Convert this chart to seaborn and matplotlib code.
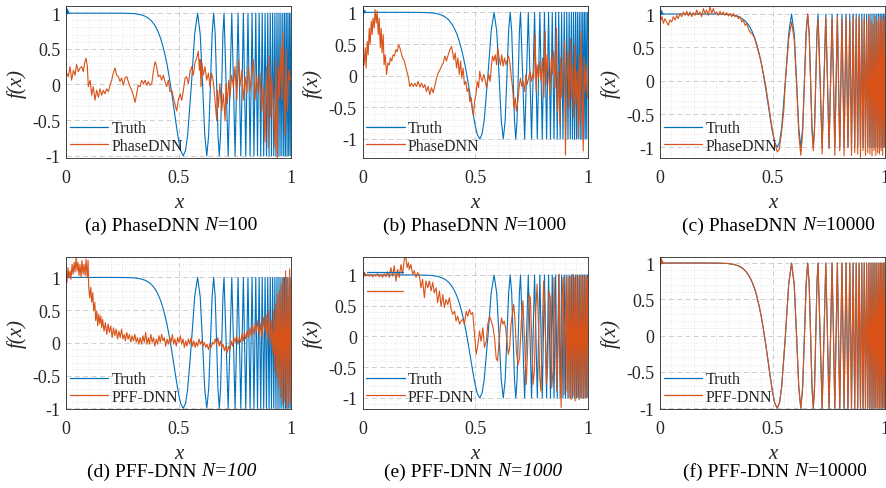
import matplotlib
matplotlib.use("Agg")
import matplotlib.pyplot as plt
import seaborn as sns
from matplotlib.ticker import MultipleLocator, FixedLocator
from matplotlib.lines import Line2D

# ---------------- data ----------------
truth_x = [0.000, 0.002, 0.004, 0.007, 0.010, 0.014, 0.020,
           0.100, 0.200, 0.250, 0.300, 0.330, 0.350, 0.360, 0.370, 0.380, 0.390,
           0.400, 0.410, 0.420, 0.430, 0.440, 0.450, 0.460, 0.470, 0.480, 0.490,
           0.500, 0.510, 0.521, 0.5313, 0.5407,
           0.5574, 0.5719, 0.5848, 0.5964, 0.6070, 0.6167, 0.6257, 0.6341, 0.6420, 0.6494,
           0.6564, 0.6631, 0.6694, 0.6755, 0.6813, 0.6869, 0.6922, 0.6974,
           0.7023, 0.7118, 0.7206, 0.7289, 0.7368, 0.7443, 0.7514, 0.7582, 0.7647, 0.7710,
           0.7769,
           0.7883, 0.7989, 0.8088, 0.8182, 0.8270, 0.8354, 0.8434, 0.8511, 0.8584, 0.8654,
           0.8721, 0.8786, 0.8849, 0.8909, 0.8967, 0.9024, 0.9079, 0.9132, 0.9184, 0.9234,
           0.9283, 0.9331, 0.9377, 0.9423, 0.9467, 0.9511, 0.9553, 0.9594, 0.9635, 0.9675,
           0.9714, 0.9752, 0.9789, 0.9826, 0.9862, 0.9897, 0.9932, 0.9966, 1.000]
truth_y = [1.09, 0.98, 1.06, 0.99, 1.03, 0.995, 1.0,
           1.0, 1.0, 0.999, 0.994, 0.980, 0.959, 0.942, 0.920, 0.890, 0.851,
           0.800, 0.734, 0.651, 0.546, 0.417, 0.264, 0.083, -0.122, -0.343, -0.567,
           -0.773, -0.929, -1.0, -0.924, -0.707,
           0.0, 0.707, 1.0, 0.707, 0.0, -0.707, -1.0, -0.707, 0.0, 0.707,
           1.0, 0.707, 0.0, -0.707, -1.0, -0.707, 0.0, 0.707,
           1.0, 0.0, -1.0, 0.0, 1.0, 0.0, -1.0, 0.0, 1.0, 0.0,
           -1.0,
           1, -1, 1, -1, 1, -1, 1, -1, 1, -1,
           1, -1, 1, -1, 1, -1, 1, -1, 1, -1,
           1, -1, 1, -1, 1, -1, 1, -1, 1, -1,
           1, -1, 1, -1, 1, -1, 1, -1, 1]

# (a) PhaseDNN N=100
a_x = [0.000, 0.010, 0.018, 0.025, 0.033, 0.040, 0.047, 0.055, 0.062, 0.070,
       0.077, 0.084, 0.089, 0.095, 0.099, 0.107, 0.114, 0.121, 0.129, 0.136,
       0.144, 0.151, 0.159, 0.166, 0.173, 0.181, 0.188, 0.196, 0.203, 0.210,
       0.218, 0.225, 0.233, 0.240, 0.247, 0.255, 0.262, 0.270, 0.277, 0.284,
       0.292, 0.299, 0.307, 0.314, 0.321, 0.329, 0.336, 0.344, 0.351, 0.359,
       0.366, 0.373, 0.381, 0.388, 0.396, 0.403, 0.410, 0.418, 0.425, 0.433,
       0.440, 0.447, 0.455, 0.462, 0.470, 0.477, 0.484, 0.492, 0.499, 0.507,
       0.514, 0.521, 0.529, 0.536, 0.544, 0.551, 0.559, 0.566, 0.573, 0.581,
       0.588, 0.593, 0.596, 0.600, 0.604, 0.610, 0.618, 0.625, 0.633, 0.640,
       0.647, 0.655, 0.662, 0.670, 0.673, 0.677, 0.684, 0.692, 0.699, 0.707,
       0.711, 0.717, 0.723, 0.729, 0.736, 0.744, 0.751, 0.759, 0.766, 0.773,
       0.781, 0.788, 0.796, 0.803, 0.810, 0.818, 0.825, 0.833, 0.840, 0.847,
       0.855, 0.862, 0.870, 0.877, 0.884, 0.892, 0.899, 0.904, 0.910, 0.914,
       0.921, 0.929, 0.933, 0.939, 0.944, 0.948, 0.954, 0.959, 0.963, 0.969,
       0.973, 0.978, 0.984, 0.990, 0.996, 1.000]
a_y = [0.18, 0.11, 0.25, 0.06, 0.2, 0.13, 0.28, 0.18, 0.23, 0.25,
       0.18, 0.32, 0.37, 0.25, -0.03, 0.06, -0.15, -0.03, -0.22, -0.08,
       -0.18, -0.06, -0.15, -0.08, -0.13, -0.06, -0.1, -0.01, 0.06, 0.16,
       0.23, 0.13, 0.11, 0.04, 0.09, -0.01, 0.09, 0.11, 0.04, -0.03,
       -0.08, -0.15, -0.25, -0.13, -0.01, -0.03, 0.06, 0.01, 0.06, -0.01,
       0.04, -0.01, 0.01, 0.18, 0.32, 0.25, 0.11, 0.13, 0.06, 0.13,
       0.04, -0.03, 0.06, -0.1, -0.08, -0.18, -0.27, -0.37, -0.22, -0.13,
       -0.22, -0.1, 0.09, 0.11, 0.01, 0.18, 0.25, 0.13, 0.30, 0.37,
       0.47, 0.2, 0.35, -0.03, 0.3, 0.13, 0.25, 0.06, 0.16, -0.03,
       0.16, 0.04, -0.22, -0.51, -0.08, -0.32, 0.01, -0.37, -0.13, -0.51,
       0.01, -0.27, 0.06, -0.18, 0.13, -0.03, 0.25, -0.22, 0.35, -0.03,
       0.2, -0.22, 0.11, -0.13, 0.25, -0.08, 0.11, 0.35, -0.22, 0.11,
       -0.13, 0.16, -0.37, -0.03, -0.8, 0.25, -0.89, 0.4, -0.46, 0.11,
       -0.22, -0.89, 0.35, -1.08, 0.25, -0.18, 0.54, -0.22, 0.73, -0.08,
       -0.7, 0.49, -0.37, 0.2, 0.06, 0.09]

# (b) PhaseDNN N=1000
b_x = [0.000, 0.003, 0.007, 0.012, 0.016, 0.021, 0.025, 0.030, 0.034, 0.039,
       0.043, 0.047, 0.052, 0.056, 0.061, 0.065, 0.070, 0.074, 0.079, 0.083,
       0.087, 0.092, 0.096, 0.101, 0.107, 0.113, 0.119, 0.124, 0.130, 0.136,
       0.142, 0.148, 0.154, 0.160, 0.166, 0.172, 0.178, 0.184, 0.190, 0.196,
       0.203, 0.210, 0.218, 0.225, 0.233, 0.240, 0.247, 0.255, 0.262, 0.270,
       0.277, 0.284, 0.292, 0.299, 0.307, 0.314, 0.321, 0.329, 0.336, 0.344,
       0.351, 0.359, 0.366, 0.373, 0.381, 0.388, 0.396, 0.400, 0.406, 0.412,
       0.418, 0.424, 0.430, 0.436, 0.441, 0.447, 0.453, 0.459, 0.465, 0.471,
       0.477, 0.483, 0.489, 0.493, 0.498, 0.504, 0.510, 0.516, 0.521, 0.527,
       0.533, 0.539, 0.545, 0.551, 0.556, 0.561, 0.567, 0.573, 0.578, 0.584,
       0.590, 0.596, 0.601, 0.607, 0.613, 0.619, 0.625, 0.631, 0.637, 0.643,
       0.649, 0.655, 0.661, 0.667, 0.673, 0.679, 0.684, 0.690, 0.696, 0.702,
       0.708, 0.714, 0.720, 0.726, 0.732, 0.738, 0.744, 0.750, 0.756, 0.761,
       0.767, 0.772, 0.776, 0.782, 0.788, 0.794, 0.800, 0.806, 0.812, 0.816,
       0.821, 0.827, 0.833, 0.839, 0.844, 0.850, 0.856, 0.862, 0.867, 0.871,
       0.877, 0.881, 0.886, 0.892, 0.898, 0.902, 0.907, 0.913, 0.919, 0.924,
       0.929, 0.933, 0.939, 0.944, 0.948, 0.954, 0.959, 0.963, 0.967, 0.972,
       0.976, 0.981, 0.985, 0.990, 0.994, 1.000]
b_y = [-0.09, 0.28, 0.17, 0.44, 0.12, 0.54, 0.33, 0.75, 0.49, 0.86,
       0.65, 0.91, 0.75, 1.04, 0.83, 1.02, 0.65, 0.91, 0.44, 0.75,
       0.36, 0.65, 0.17, 0.33, 0.02, 0.2, 0.17, 0.28, 0.23, 0.33,
       0.31, 0.41, 0.38, 0.49, 0.44, 0.36, 0.28, 0.25, 0.17, 0.09,
       -0.01, -0.17, -0.12, -0.17, -0.12, -0.17, -0.09, -0.18, -0.12, -0.19,
       -0.14, -0.25, -0.17, -0.3, -0.19, -0.27, -0.17, -0.04, 0.04, 0.09,
       0.15, 0.2, 0.31, 0.23, 0.33, 0.41, 0.46, 0.38, 0.25, 0.36,
       0.12, 0.28, 0.02, 0.23, -0.04, 0.12, -0.14, -0.09, -0.25, -0.19,
       -0.41, -0.35, -0.56, -0.62, -0.41, -0.3, -0.09, -0.19, 0.07, -0.04,
       -0.09, 0.02, -0.06, -0.19, -0.09, 0.02, -0.09, 0.17, 0.31, 0.23,
       0.33, 0.17, 0.44, 0.28, 0.17, 0.33, 0.15, 0.28, 0.17, 0.25,
       0.31, 0.2, -0.01, -0.19, -0.51, -0.35, -0.56, -0.41, -0.19, -0.04,
       -0.17, -0.09, -0.25, 0.02, -0.14, -0.04, 0.07, -0.09, 0.02, -0.04,
       0.65, -0.25, 0.17, -0.04, 0.23, -0.09, 0.28, -0.35, 0.7, -0.14,
       0.33, 0.02, -0.3, 0.28, 0.02, 0.38, -0.19, 0.75, -0.56, 0.07,
       -0.77, 0.28, -0.35, 0.07, 0.54, -1.25, -0.04, 0.38, -0.51, 0.59,
       -0.35, 0.17, -0.67, 0.49, -0.46, 0.07, -0.98, 0.33, -0.77, 0.7,
       -0.14, -1.19, 0.28, -0.25, 0.17, -0.35]

# (c) PhaseDNN N=10000
c_head_x = [0.000, 0.004, 0.009, 0.015, 0.022, 0.030, 0.037, 0.044, 0.052, 0.059,
            0.067, 0.074, 0.081, 0.089, 0.096, 0.104, 0.111, 0.119, 0.126, 0.133,
            0.141, 0.148, 0.156, 0.163, 0.170, 0.178, 0.185, 0.193, 0.200, 0.207,
            0.215, 0.222, 0.230, 0.237, 0.244, 0.252, 0.259, 0.267, 0.274, 0.281,
            0.289, 0.296, 0.304, 0.311, 0.319, 0.326, 0.333, 0.341, 0.348, 0.356,
            0.363, 0.370, 0.378, 0.385, 0.393, 0.400]
c_head_y = [1.03, 0.91, 0.96, 0.86, 0.93, 0.88, 0.83, 0.91, 0.88, 0.96,
            0.91, 0.98, 0.93, 1.01, 0.96, 1.03, 0.98, 1.04, 0.97, 1.03,
            0.96, 1.02, 0.98, 1.06, 0.99, 1.03, 0.96, 1.08, 1.01, 1.06,
            0.98, 1.11, 1.01, 1.08, 1.01, 1.03, 0.98, 1.04, 0.99, 1.03,
            0.98, 1.02, 0.97, 1.01, 0.96, 1.01, 0.96, 0.98, 0.93, 0.96,
            0.88, 0.91, 0.83, 0.86, 0.78, 0.73]
c_mid_x = [0.410, 0.420, 0.430, 0.440, 0.450, 0.460, 0.470, 0.480, 0.490, 0.500,
           0.510, 0.521, 0.530, 0.540, 0.550]
c_mid_y = [0.70, 0.64, 0.52, 0.40, 0.27, 0.10, -0.08, -0.30, -0.52, -0.75,
           -0.93, -1.07, -1.03, -0.78, -0.45]
c_tail_x = [0.5574, 0.5719, 0.5848, 0.5964, 0.6070, 0.6167, 0.6257, 0.6341, 0.6420, 0.6494,
            0.6564, 0.6631, 0.6694, 0.6755, 0.6813, 0.6869, 0.6922, 0.6974,
            0.7023, 0.7118, 0.7206, 0.7289, 0.7368, 0.7443, 0.7514, 0.7582, 0.7647, 0.7710,
            0.7769,
            0.7883, 0.7989, 0.8088, 0.8182, 0.8270, 0.8354, 0.8434, 0.8511, 0.8584, 0.8654,
            0.8721, 0.8786, 0.8849, 0.8909, 0.8967, 0.9024, 0.9079, 0.9132, 0.9184, 0.9234,
            0.9283, 0.9331, 0.9377, 0.9423, 0.9467, 0.9511, 0.9553, 0.9594, 0.9635, 0.9675,
            0.9714, 0.9752, 0.9789, 0.9826, 0.9862, 0.9897, 0.9932, 0.9966, 1.000]
c_tail_y = [0.0, 0.62, 0.88, 0.62, -0.05, -0.80, -1.12, -0.78, 0.0, 0.72,
            1.0, 0.70, -0.02, -0.75, -1.05, -0.72, 0.0, 0.65,
            0.92, 0.0, -1.1, 0.0, 0.95, 0.0, -1.02, 0.0, 0.93, 0.0,
            -1.12,
            0.97, -1.05, 0.92, -1.13, 0.95, -1.0, 0.9, -1.12, 0.98, -1.08,
            0.93, -1.1, 0.96, -1.15, 0.9, -1.05, 0.95, -1.12, 0.88, -1.08,
            0.98, -1.1, 0.9, -1.13, 0.85, -1.05, 0.97, -1.12, 0.9, -1.08,
            0.95, -1.1, 0.88, -1.05, 0.97, -1.12, 0.92, -1.0, 0.95]

# (d) PFF-DNN N=100
d_x = [0.000, 0.004, 0.009, 0.013, 0.018, 0.022, 0.027, 0.031, 0.036, 0.040,
       0.045, 0.049, 0.053, 0.058, 0.062, 0.067, 0.071, 0.076, 0.080, 0.085,
       0.089, 0.094, 0.098,
       0.101, 0.105, 0.110, 0.114, 0.119, 0.123, 0.128, 0.132, 0.137, 0.141,
       0.146, 0.150, 0.155, 0.159, 0.163,
       0.169, 0.175, 0.181, 0.187, 0.193, 0.199, 0.205, 0.211, 0.217, 0.223,
       0.229, 0.235, 0.241, 0.247, 0.253, 0.259, 0.264, 0.270, 0.276, 0.282,
       0.288, 0.294, 0.300, 0.306, 0.312, 0.318, 0.324, 0.330, 0.336, 0.342,
       0.348, 0.354, 0.360, 0.366, 0.371, 0.377, 0.383, 0.389, 0.395, 0.401,
       0.407, 0.413, 0.419, 0.425, 0.431, 0.437, 0.443, 0.449, 0.455, 0.461,
       0.467, 0.473, 0.478, 0.484, 0.490, 0.496, 0.502, 0.508, 0.514, 0.520,
       0.526, 0.532, 0.538, 0.544, 0.550, 0.556, 0.562, 0.568, 0.574, 0.579,
       0.585, 0.591, 0.597, 0.603, 0.609, 0.615, 0.621, 0.627, 0.633, 0.639,
       0.645, 0.651, 0.657, 0.663, 0.669, 0.675, 0.681, 0.686, 0.692, 0.698,
       0.704, 0.710, 0.716, 0.722, 0.728, 0.734, 0.740, 0.746, 0.752, 0.758,
       0.764, 0.770, 0.776, 0.782, 0.788, 0.793, 0.799, 0.805, 0.811, 0.817,
       0.823, 0.829, 0.835, 0.841, 0.847, 0.853, 0.859, 0.865, 0.871, 0.877,
       0.883, 0.889, 0.895, 0.900,
       0.906, 0.912, 0.918,
       0.923, 0.927, 0.932, 0.936, 0.941, 0.945, 0.949, 0.954, 0.958, 0.963,
       0.967, 0.972, 0.976, 0.981, 0.985, 0.990, 0.994, 0.999,
       1.000]
d_y = [1.05, 0.92, 1.15, 1.0, 1.1, 0.97, 1.2, 1.05, 1.23, 1.08,
       1.31, 1.1, 1.23, 1.03, 1.2, 1.0, 1.26, 1.05, 1.2, 1.03,
       1.28, 1.0, 1.26,
       0.85, 0.69, 0.85, 0.62, 0.77, 0.49, 0.62, 0.34, 0.49, 0.26,
       0.44, 0.29, 0.41, 0.23, 0.36,
       0.18, 0.31, 0.13, 0.29, 0.16, 0.26, 0.08, 0.23, 0.11, 0.21,
       0.06, 0.18, 0.08, 0.21, 0.06, 0.13, 0.03, 0.16, 0.06, 0.13,
       0.01, 0.11, 0.03, 0.13, 0.01, 0.08, -0.02, 0.08, -0.02, 0.11,
       0.01, 0.16, -0.02, 0.08, -0.02, 0.13, 0.01, 0.08, -0.05, 0.06,
       -0.02, 0.11, 0.01, 0.13, 0.03, 0.08, -0.05, 0.06, -0.02, 0.08,
       0.01, 0.13, -0.02, 0.06, -0.05, 0.08, 0.01, 0.11, -0.02, 0.06,
       -0.07, 0.03, -0.05, 0.06, -0.02, 0.08, -0.05, 0.03, -0.07, 0.01,
       -0.05, 0.06, -0.02, 0.03, -0.05, 0.01, -0.07, -0.02, -0.1, -0.02,
       -0.07, 0.01, -0.02, 0.06, -0.02, 0.08, -0.05, 0.03, -0.07, -0.02,
       -0.12, -0.05, -0.15, -0.05, -0.12, 0.03, -0.05, 0.08, 0.01, 0.11,
       -0.02, 0.08, 0.01, 0.13, 0.03, 0.16, 0.06, 0.18, 0.08, 0.23,
       0.11, 0.26, 0.13, 0.29, 0.18, 0.34, 0.13, 0.29, 0.08, 0.39,
       0.18, 0.44, 0.08, 0.49,
       -0.02, 0.34, -0.17,
       0.49, -0.43, 0.59, -0.53, 0.74, -0.68, 0.8, -0.84, 0.9, -0.94,
       1.0, -0.89, 1.1, -0.99, 1.0, -0.94, 1.13, -0.89,
       0.95]

# (e) PFF-DNN N=1000
e_x = [0.000, 0.004, 0.009, 0.015, 0.022, 0.030, 0.037, 0.045, 0.052, 0.059,
       0.067, 0.074, 0.082, 0.089, 0.097, 0.104, 0.111, 0.119, 0.126, 0.134,
       0.141, 0.149, 0.156, 0.163, 0.171, 0.178, 0.186, 0.193, 0.198, 0.204,
       0.208, 0.215, 0.223, 0.230, 0.238, 0.245, 0.253, 0.260, 0.267, 0.275,
       0.282, 0.290, 0.297, 0.305, 0.312, 0.319, 0.327, 0.334, 0.342, 0.349,
       0.357, 0.364, 0.371, 0.379, 0.386, 0.394, 0.401, 0.409, 0.416, 0.423,
       0.431, 0.438, 0.446, 0.453, 0.461, 0.468, 0.475, 0.483, 0.490, 0.498,
       0.505, 0.513, 0.520, 0.527, 0.535, 0.542, 0.550, 0.557, 0.565, 0.572,
       0.579, 0.587, 0.594, 0.600, 0.606, 0.612, 0.618, 0.624, 0.630, 0.636,
       0.642, 0.648, 0.654, 0.660, 0.666, 0.672, 0.678, 0.684, 0.691, 0.698,
       0.706, 0.713, 0.721, 0.728, 0.734, 0.740, 0.746, 0.752, 0.758, 0.764,
       0.770, 0.776, 0.782, 0.788, 0.793, 0.799, 0.805, 0.811, 0.817, 0.823,
       0.829, 0.835, 0.841, 0.847, 0.851, 0.857, 0.863, 0.869, 0.874, 0.878,
       0.883, 0.887, 0.892, 0.896, 0.900, 0.905, 0.909, 0.914, 0.918, 0.923,
       0.927, 0.932, 0.936, 0.941, 0.945, 0.949, 0.954, 0.958, 0.963, 0.967,
       0.972, 0.976, 0.981, 0.985, 0.990, 0.994, 0.999, 1.000]
e_y = [1.07, 0.96, 1.04, 0.98, 1.01, 0.98, 1.01, 0.97, 1.0, 0.98,
       1.02, 0.97, 1.01, 0.96, 1.02, 0.97, 1.05, 0.96, 1.12, 0.98,
       1.15, 0.9, 1.09, 0.96, 1.17, 1.01, 1.26, 1.28, 1.12, 1.2,
       1.09, 1.17, 1.01, 1.07, 0.96, 1.04, 0.98, 0.79, 0.93, 0.63,
       0.9, 0.79, 0.9, 0.74, 0.88, 0.71, 0.79, 0.55, 0.74, 0.49,
       0.68, 0.47, 0.6, 0.52, 0.63, 0.44, 0.36, 0.41, 0.25, 0.33,
       0.2, 0.25, 0.28, 0.2, 0.41, 0.33, 0.44, 0.36, 0.39, 0.03,
       -0.29, -0.13, 0.09, -0.08, 0.14, -0.18, -0.08, 0.2, 0.33, 0.25,
       0.17, -0.02, -0.35, -0.4, -0.13, 0.14, 0.3, 0.2, 0.25, 0.14,
       -0.08, -0.29, -0.18, 0.2, 0.36, 0.52, 0.25, -0.24, -0.46, -0.35,
       0.25, 0.58, -0.13, -0.78, -0.18, 0.68, 0.63, -0.02, -0.78, -0.57,
       0.41, 0.85, 0.2, -0.67, -0.89, 0.14, 0.9, 0.41, -0.78, -0.46,
       0.74, 0.63, -0.84, -0.57, 0.96, 0.25, -0.89, -0.08, 1.01, -0.57,
       -1.16, 0.68, 0.96, -0.95, 0.14, 0.98, -0.89, 0.96, -1.0, 0.98,
       -1.03, 1.01, -0.97, 0.96, -1.05, 1.0, -0.99, 0.98, -1.03, 1.0,
       -0.99, 0.98, -1.01, 1.0, -1.0, 0.98, -0.99, 0.96]
# stray legend-sample strokes visible in panel (e)
e_stroke_x = [0.022, 0.178]
e_stroke_blue_y = [1.04, 1.04]
e_stroke_orange_y = [0.74, 0.74]

# (f) PFF-DNN N=10000 : prediction coincides with the truth curve
f_x = truth_x
f_y = truth_y

# caption pieces: (text, italic?)
captions = [
    [("(a) PhaseDNN ", False), ("N", True), ("=100", False)],
    [("(b) PhaseDNN ", False), ("N", True), ("=1000", False)],
    [("(c) PhaseDNN ", False), ("N", True), ("=10000", False)],
    [("(d) PFF-DNN ", False), ("N=100", True)],
    [("(e) PFF-DNN ", False), ("N=1000", True)],
    [("(f) PFF-DNN ", False), ("N", True), ("=10000", False)],
]
caption_cx = [171, 474.5, 778.5, 172, 473, 775]
method_names = ["PhaseDNN", "PhaseDNN", "PhaseDNN", "PFF-DNN", "PFF-DNN", "PFF-DNN"]
x_ticks = [0, 0.5, 1]
x_tick_labels = ["0", "0.5", "1"]
y_ticks = [-1, -0.5, 0, 0.5, 1]
y_tick_labels = ["-1", "-0.5", "0", "0.5", "1"]
y_limits = [(-1.03, 1.10), (-1.30, 1.10), (-1.16, 1.12),
            (-1.01, 1.32), (-1.18, 1.30), (-1.01, 1.09)]

# ---------------- styling ----------------
sns.set_theme(style="white")
plt.rcParams['font.family'] = ['Liberation Serif', 'DejaVu Serif']
plt.rcParams['axes.unicode_minus'] = False

BLUE = '#0072BD'
ORANGE = '#D95319'
W, H = 886, 489
fig = plt.figure(figsize=(W / 100, H / 100), dpi=100)

col_left = [66, 362.5, 660]
ax_w = 225
rows = [(7, 159), (257.5, 410)]

preds = [(a_x, a_y), (b_x, b_y),
         (c_head_x + c_mid_x + c_tail_x, c_head_y + c_mid_y + c_tail_y),
         (d_x, d_y), (e_x, e_y), (f_x, f_y)]

for i in range(6):
    r, c = divmod(i, 3)
    top, bot = rows[r]
    left = col_left[c]
    ax = fig.add_axes([left / W, 1 - bot / H, ax_w / W, (bot - top) / H])
    px, py = preds[i]
    sns.lineplot(x=truth_x, y=truth_y, ax=ax, color=BLUE, linewidth=0.8,
                 sort=False, estimator=None, legend=False)
    sns.lineplot(x=px, y=py, ax=ax, color=ORANGE, linewidth=0.8,
                 sort=False, estimator=None, legend=False)
    if i == 4:
        sns.lineplot(x=e_stroke_x, y=e_stroke_blue_y, ax=ax, color=BLUE,
                     linewidth=0.9, sort=False, estimator=None, legend=False)
        sns.lineplot(x=e_stroke_x, y=e_stroke_orange_y, ax=ax, color=ORANGE,
                     linewidth=0.9, sort=False, estimator=None, legend=False)
    ax.set_xlim(0, 1)
    ax.set_ylim(*y_limits[i])
    ax.xaxis.set_major_locator(FixedLocator(x_ticks))
    ax.set_xticklabels(x_tick_labels)
    ax.yaxis.set_major_locator(FixedLocator(y_ticks))
    ax.set_yticklabels(y_tick_labels)
    ax.xaxis.set_minor_locator(MultipleLocator(0.05))
    ax.yaxis.set_minor_locator(MultipleLocator(0.1))
    ax.set_axisbelow(True)
    ax.grid(which='major', color='#c8c8c8', linestyle=(0, (6, 4)), linewidth=0.6)
    ax.grid(which='minor', color='#cccccc', linestyle=(0, (1, 3)), linewidth=0.5)
    ax.tick_params(which='major', direction='in', length=3, width=0.5,
                   colors='#262626', labelsize=13)
    ax.tick_params(axis='x', which='major', pad=8)
    ax.tick_params(axis='y', which='major', pad=4)
    ax.tick_params(which='minor', length=0)
    for s in ax.spines.values():
        s.set_visible(True)
        s.set_color('#262626')
        s.set_linewidth(0.6)
    ax.set_xlabel('x', fontsize=15, fontstyle='italic', labelpad=5, color='#262626')
    ax.set_ylabel('f(x)', fontsize=15, fontstyle='italic', labelpad=4, color='#262626')
    handles = [Line2D([], [], color=BLUE, lw=0.9), Line2D([], [], color=ORANGE, lw=0.9)]
    ax.legend(handles, ['Truth', method_names[i]], loc='lower left', frameon=False,
              fontsize=11.5, handlelength=2.4, handletextpad=0.2,
              borderaxespad=0.1, borderpad=0.15, labelspacing=0.12)

# captions with mixed upright / italic pieces, centred under each panel
renderer = fig.canvas.get_renderer()
for i in range(6):
    r = i // 3
    cy = 1 - (226 if r == 0 else 472) / H
    parts = captions[i]
    texts = []
    widths = []
    for txt, it in parts:
        t = fig.text(0, cy, txt, ha='left', va='center', fontsize=14,
                     fontstyle='italic' if it else 'normal', color='black')
        texts.append(t)
        widths.append(t.get_window_extent(renderer=renderer).width)
    total = sum(widths)
    x0 = caption_cx[i] - total / 2
    for t, w in zip(texts, widths):
        t.set_x(x0 / W)
        x0 += w

fig.savefig('out.png', dpi=100)
